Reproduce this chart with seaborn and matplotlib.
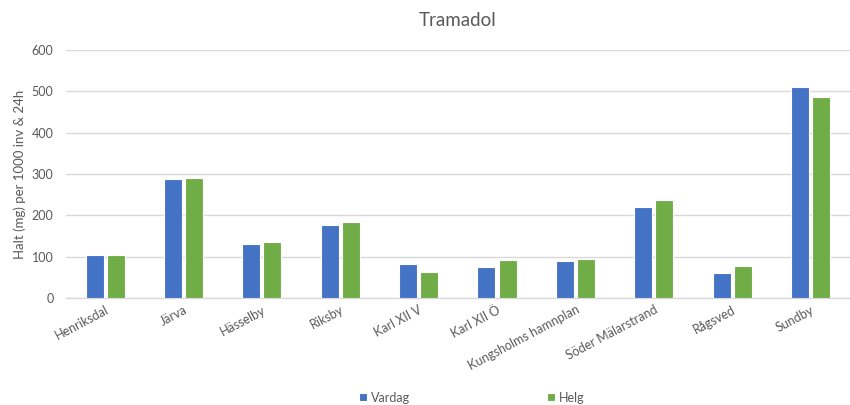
import matplotlib
matplotlib.use("Agg")
import matplotlib.pyplot as plt
import seaborn as sns
import pandas as pd

stations = ["Henriksdal", "Järva", "Hässelby", "Riksby", "Karl XII V", "Karl XII Ö",
            "Kungsholms hamnplan", "Söder Mälarstrand", "Rågsved", "Sundby"]
vardag = [103, 287, 130, 177, 82, 75, 89, 219, 60, 509]
helg = [105, 291, 135, 183, 64, 93, 94, 238, 77, 486]
series = ["Vardag", "Helg"]
colors = ["#4472C4", "#70AD47"]
y_ticks = [0, 100, 200, 300, 400, 500, 600]

df = pd.DataFrame({
    "Station": stations * 2,
    "Dag": [series[0]] * len(stations) + [series[1]] * len(stations),
    "Halt": vardag + helg,
})

sns.set_theme(style="white")
plt.rcParams["font.family"] = ["Lato", "DejaVu Sans"]
text_color = "#595959"

fig = plt.figure(figsize=(8.5, 4.05), dpi=100)
ax = fig.add_axes([0.0776, 0.264, 0.922, 0.613])

sns.barplot(data=df, x="Station", y="Halt", hue="Dag", palette=colors,
            saturation=1, width=0.54, gap=0.15, edgecolor="white",
            linewidth=0.8, ax=ax, zorder=3)

ax.set_ylim(0, 600)
ax.set_yticks(y_ticks)
ax.yaxis.grid(True, color="#D9D9D9", linewidth=1, zorder=0)
ax.set_axisbelow(True)
for side in ["top", "right", "left"]:
    ax.spines[side].set_visible(False)
ax.spines["bottom"].set_color("#D9D9D9")
ax.spines["bottom"].set_linewidth(1)
ax.tick_params(axis="both", length=0, colors=text_color, labelsize=9)
ax.tick_params(axis="y", pad=9)
ax.tick_params(axis="x", pad=4)
for lbl in ax.get_xticklabels():
    lbl.set_rotation(28)
    lbl.set_ha("right")
    lbl.set_rotation_mode("anchor")

ax.set_xlabel("")
ax.set_ylabel("Halt (mg) per 1000 inv & 24h", color=text_color, fontsize=9.5, labelpad=4)
ax.set_title("Tramadol", color=text_color, fontsize=13.5, pad=17)

ax.legend_.remove()
handles, labels = ax.get_legend_handles_labels()
fig.legend(handles, labels, loc="center", bbox_to_anchor=(0.555, 0.018), ncol=2,
           frameon=False, fontsize=9, labelcolor=text_color, handlelength=0.6,
           handleheight=0.6, handletextpad=0.3, columnspacing=11)

fig.savefig("out.png", dpi=100)
